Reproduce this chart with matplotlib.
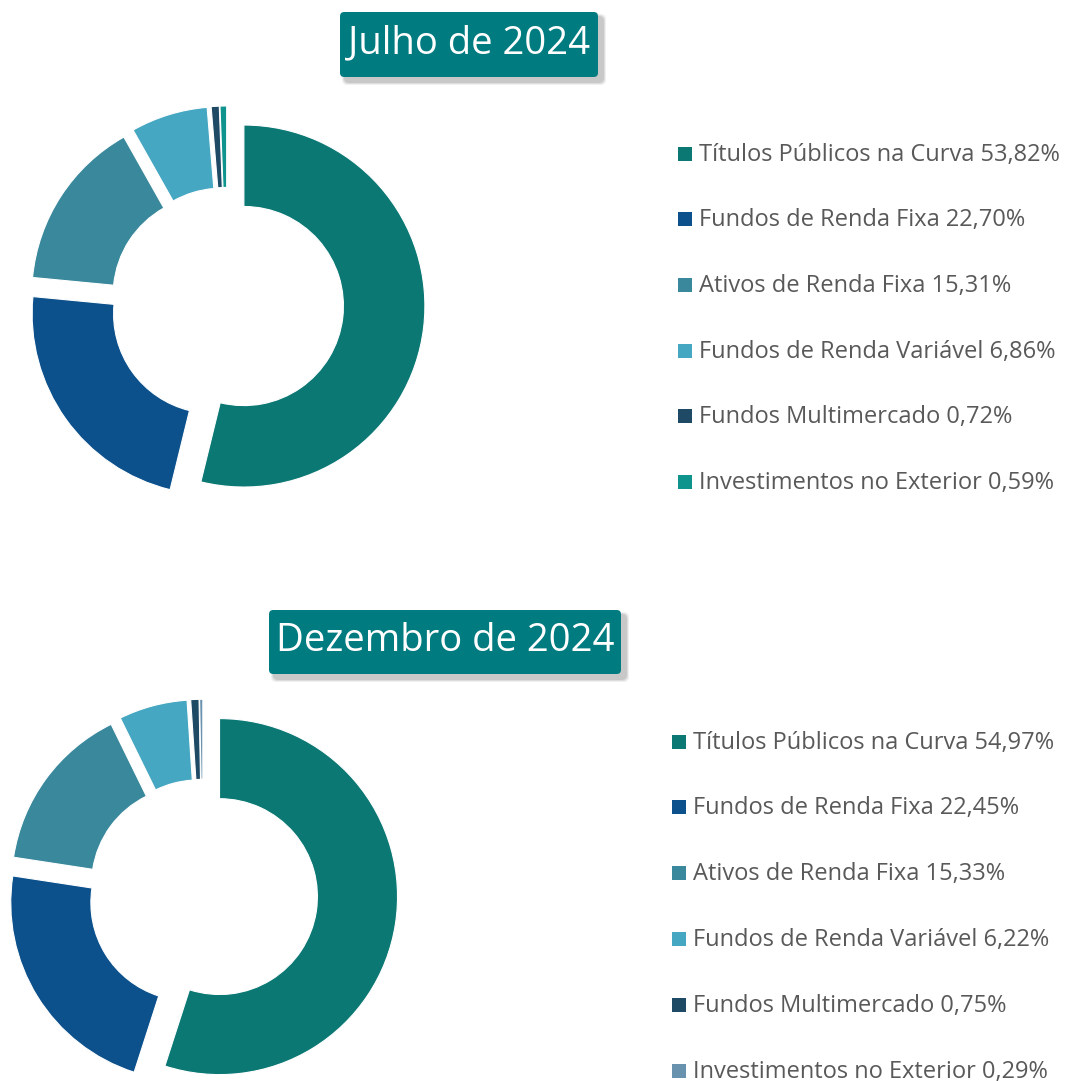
import matplotlib
matplotlib.use("Agg")
import matplotlib.pyplot as plt
from matplotlib.patches import FancyBboxPatch, Rectangle

plt.rcParams['font.family'] = ['Open Sans', 'DejaVu Sans']

categories = ["Títulos Públicos na Curva", "Fundos de Renda Fixa", "Ativos de Renda Fixa",
              "Fundos de Renda Variável", "Fundos Multimercado", "Investimentos no Exterior"]
jul_values = [53.82, 22.70, 15.31, 6.86, 0.72, 0.59]
dez_values = [54.97, 22.45, 15.33, 6.22, 0.75, 0.29]
titles = ["Julho de 2024", "Dezembro de 2024"]

jul_colors = ["#0B7874", "#0D518C", "#3A889C", "#45A7C1", "#1F4A66", "#0E948C"]
dez_colors = ["#0B7874", "#0D518C", "#3A889C", "#45A7C1", "#1F4A66", "#6892AD"]

W, H = 1068, 1081
fig = plt.figure(figsize=(W / 100, H / 100), dpi=100)

def fmt(v):
    return f"{v:.2f}".replace(".", ",") + "%"

def add_pie(values, colors, cx, cy, R):
    half = 1.3 * R
    ax = fig.add_axes([(cx - half) / W, (H - cy - half) / H, 2 * half / W, 2 * half / H])
    ax.pie(values, colors=colors, startangle=90, counterclock=False, radius=1,
           explode=[0.094] * len(values),
           wedgeprops=dict(width=0.45, edgecolor="white", linewidth=0.8))
    ax.set_xlim(-1.3, 1.3)
    ax.set_ylim(-1.3, 1.3)
    ax.set_aspect("equal")
    ax.axis("off")

def add_title(text, x0, x1, y0, y1):
    # soft shadow
    for k, a in [(6, 0.12), (4, 0.18), (2, 0.25)]:
        sh = FancyBboxPatch(((x0 + 5 - k / 2) / W, (H - y1 - 5 - k / 2) / H),
                            (x1 - x0 + k) / W, (y1 - y0 + k) / H,
                            boxstyle="round,pad=0,rounding_size=0.005", transform=fig.transFigure,
                            facecolor="#8a8a8a", edgecolor="none", alpha=a, zorder=1)
        fig.patches.append(sh)
    bx = FancyBboxPatch((x0 / W, (H - y1) / H), (x1 - x0) / W, (y1 - y0) / H,
                        boxstyle="round,pad=0,rounding_size=0.004", transform=fig.transFigure,
                        facecolor="#007B7F", edgecolor="none", zorder=2)
    fig.patches.append(bx)
    fig.text((x0 + x1) / 2 / W, (H - (y0 + y1) / 2 + 1) / H, text, color="white",
             fontsize=27.5, ha="center", va="center", zorder=3)

def add_legend(values, colors, sx, tx, ys):
    for v, c, lab, y in zip(values, colors, categories, ys):
        fig.patches.append(Rectangle((sx / W, (H - y - 7) / H), 14 / W, 14 / H,
                                     transform=fig.transFigure, facecolor=c, edgecolor="none"))
        fig.text(tx / W, (H - y - 1) / H, f"{lab} {fmt(v)}", color="#595959",
                 fontsize=17, ha="left", va="center")

add_pie(jul_values, jul_colors, 227, 304, 181)
add_pie(dez_values, dez_colors, 203, 894, 178)

add_title(titles[0], 340, 598, 12, 77)
add_title(titles[1], 269, 621, 610, 674)

add_legend(jul_values, jul_colors, 678, 699, [154, 219, 285, 351, 416, 482])
add_legend(dez_values, dez_colors, 672, 693, [742, 807, 873, 939, 1005, 1071])

fig.savefig("out.png", dpi=100)
